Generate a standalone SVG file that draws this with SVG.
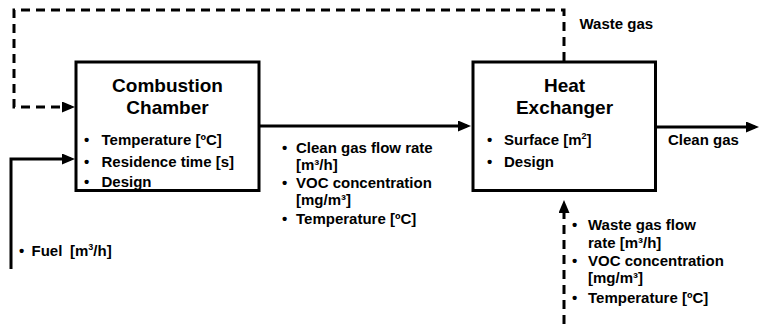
<svg xmlns="http://www.w3.org/2000/svg" width="760" height="324" viewBox="0 0 760 324">
  <defs>
    <marker id="arrow" markerUnits="userSpaceOnUse" markerWidth="14" markerHeight="12" refX="9" refY="5.5" orient="auto">
      <path d="M0,0 L13,5.5 L0,11 z" fill="#000"/>
    </marker>
    <style>
      .box { fill: #fff; stroke: #000; stroke-width: 3; }
      .flow { fill: none; stroke: #000; stroke-width: 3; }
      .dash { stroke-dasharray: 9 6; }
      text { font-family: "Liberation Sans", Arial, Helvetica, sans-serif; font-weight: bold; fill: #000; }
      .title { font-size: 19px; text-anchor: middle; }
      .item { font-size: 15px; }
      .sup { font-size: 9px; }
    </style>
  </defs>
  <rect width="760" height="324" fill="#fff"/>

  <!-- connectors -->
  <g id="connectors">
    <!-- waste gas recycle loop from heat exchanger top back to combustion chamber -->
    <path class="flow dash" d="M564,61 L564,10 L14,10 L14,107 L71,107" marker-end="url(#arrow)"/>
    <!-- fuel feed -->
    <path class="flow" d="M11,269 L11,159 L71,159" marker-end="url(#arrow)"/>
    <!-- clean gas from combustion chamber to heat exchanger -->
    <path class="flow" d="M259,126 L467,126" marker-end="url(#arrow)"/>
    <!-- clean gas out -->
    <path class="flow" d="M656,127 L755,127" marker-end="url(#arrow)"/>
    <!-- waste gas feed into heat exchanger -->
    <path class="flow dash" d="M564,324 L564,204" marker-end="url(#arrow)"/>
  </g>

  <!-- combustion chamber -->
  <g id="combustion-chamber">
    <rect class="box" x="76" y="62" width="183" height="128.5"/>
    <text class="title" x="167.5" y="92">Combustion</text>
    <text class="title" x="167.5" y="114">Chamber</text>
    <text class="item" x="84" y="145">•</text>
    <text class="item" x="101.5" y="145">Temperature [ºC]</text>
    <text class="item" x="84" y="166.5">•</text>
    <text class="item" x="101.5" y="166.5">Residence time [s]</text>
    <text class="item" x="84" y="186.5">•</text>
    <text class="item" x="101.5" y="186.5">Design</text>
  </g>

  <!-- heat exchanger -->
  <g id="heat-exchanger">
    <rect class="box" x="473" y="62" width="182.5" height="128.5"/>
    <text class="title" x="564.5" y="92">Heat</text>
    <text class="title" x="564.5" y="114">Exchanger</text>
    <text class="item" x="487" y="144.5">•</text>
    <text class="item" x="504" y="144.5">Surface [m<tspan class="sup" dy="-6">2</tspan><tspan dy="6">]</tspan></text>
    <text class="item" x="487" y="166.5">•</text>
    <text class="item" x="504" y="166.5">Design</text>
  </g>

  <!-- stream labels -->
  <g id="label-waste-gas-out">
    <text class="item" x="579.5" y="28.5">Waste gas</text>
  </g>
  <g id="label-clean-gas-out">
    <text class="item" x="668" y="145">Clean gas</text>
  </g>
  <g id="label-fuel">
    <text class="item" x="19" y="256">•</text>
    <text class="item" x="31.5" y="256">Fuel</text>
    <text class="item" x="70" y="256">[m<tspan class="sup" dy="-6">3</tspan><tspan dy="6">/h]</tspan></text>
  </g>
  <g id="label-clean-gas-stream">
    <text class="item" x="282" y="153">•</text>
    <text class="item" x="296" y="153">Clean gas flow rate</text>
    <text class="item" x="296" y="170">[m³/h]</text>
    <text class="item" x="282" y="188">•</text>
    <text class="item" x="296" y="188">VOC concentration</text>
    <text class="item" x="296" y="205">[mg/m³]</text>
    <text class="item" x="282" y="224">•</text>
    <text class="item" x="296" y="224">Temperature [ºC]</text>
  </g>
  <g id="label-waste-gas-stream">
    <text class="item" x="572" y="230">•</text>
    <text class="item" x="588" y="230">Waste gas flow</text>
    <text class="item" x="588" y="247.5">rate [m³/h]</text>
    <text class="item" x="572" y="266">•</text>
    <text class="item" x="588" y="266">VOC concentration</text>
    <text class="item" x="588" y="283">[mg/m³]</text>
    <text class="item" x="572" y="302.5">•</text>
    <text class="item" x="588" y="302.5">Temperature [ºC]</text>
  </g>
</svg>
